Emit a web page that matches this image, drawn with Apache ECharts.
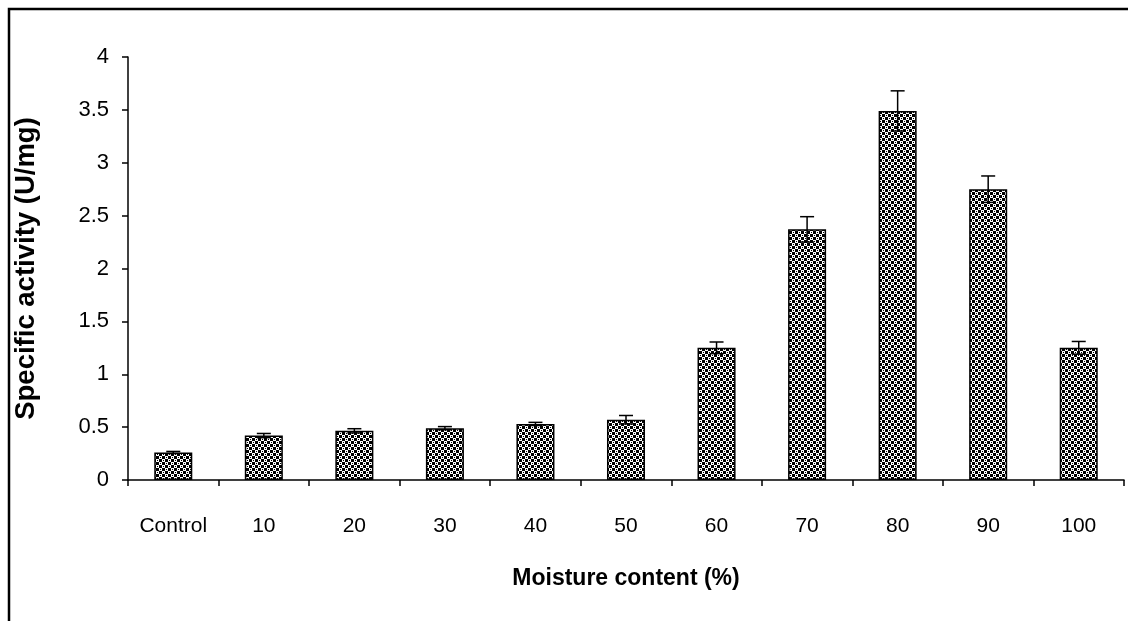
<!DOCTYPE html>
<html>
<head>
<meta charset="utf-8">
<style>
  html, body { margin: 0; padding: 0; background: #fff; }
  #chart { width: 1128px; height: 621px; }
</style>
<script src="https://cdn.jsdelivr.net/npm/echarts@6/dist/echarts.min.js"></script>
</head>
<body>
<div id="chart"></div>
<script>
// ---- data ----
var categories = ['Control', '10', '20', '30', '40', '50', '60', '70', '80', '90', '100'];
var activity   = [0.26, 0.42, 0.465, 0.49, 0.53, 0.57, 1.25, 2.37, 3.49, 2.75, 1.25];
var errors     = [0.01, 0.02, 0.02, 0.015, 0.015, 0.04, 0.055, 0.12, 0.19, 0.125, 0.06];
var yTicks     = { min: 0, max: 4, interval: 0.5 };
var xTitle = 'Moisture content (%)';
var yTitle = 'Specific activity (U/mg)';

// checkered fill pattern
var tile = document.createElement('canvas');
tile.width = 6; tile.height = 6;
var tc = tile.getContext('2d');
tc.fillStyle = '#fff'; tc.fillRect(0, 0, 6, 6);
tc.fillStyle = '#000';
tc.fillRect(0, 0, 3, 3);
tc.fillRect(3, 3, 3, 3);
tc.fillRect(4, 1, 1, 1);
tc.fillRect(1, 4, 1, 1);

var FONT = '"Liberation Sans", Arial, sans-serif';

var chart = echarts.init(document.getElementById('chart'), null, { renderer: 'canvas' });

var errData = activity.map(function (v, i) { return [i, v - errors[i], v + errors[i]]; });

chart.setOption({
  animation: false,
  backgroundColor: '#fff',
  grid: { left: 128, right: 4, top: 57, bottom: 141, containLabel: false },
  xAxis: {
    type: 'category',
    data: categories,
    name: xTitle,
    nameLocation: 'middle',
    nameGap: 87,
    nameTextStyle: { fontFamily: FONT, fontSize: 23, fontWeight: 'bold', color: '#000' },
    axisLine: { lineStyle: { color: '#000', width: 1.5 } },
    axisTick: { show: true, alignWithLabel: false, inside: false, length: 6, lineStyle: { color: '#000', width: 1.5 } },
    axisLabel: { color: '#000', fontFamily: FONT, fontSize: 21, margin: 36, interval: 0 },
    splitLine: { show: false }
  },
  yAxis: {
    type: 'value',
    min: yTicks.min, max: yTicks.max, interval: yTicks.interval,
    name: yTitle,
    nameLocation: 'middle',
    nameGap: 88,
    nameTextStyle: { fontFamily: FONT, fontSize: 27.5, fontWeight: 'bold', color: '#000' },
    axisLine: { show: true, lineStyle: { color: '#000', width: 1.5 } },
    axisTick: { show: true, inside: false, length: 6, lineStyle: { color: '#000', width: 1.5 } },
    axisLabel: { color: '#000', fontFamily: FONT, fontSize: 22, margin: 19 },
    splitLine: { show: false }
  },
  graphic: [{
    type: 'rect',
    shape: { x: 9, y: 9, width: 1300, height: 800 },
    style: { fill: 'none', stroke: '#000', lineWidth: 2.5 },
    silent: true
  }],
  series: [{
    type: 'bar',
    data: activity,
    barWidth: '42%',
    itemStyle: {
      color: { image: tile, repeat: 'repeat' },
      borderColor: '#000',
      borderWidth: 1.5
    },
    z: 2
  }, {
    type: 'custom',
    data: errData,
    z: 5,
    renderItem: function (params, api) {
      var lo = api.coord([api.value(0), api.value(1)]);
      var hi = api.coord([api.value(0), api.value(2)]);
      var half = 7;
      var st = { stroke: '#000', lineWidth: 1.5, fill: null };
      return {
        type: 'group',
        children: [
          { type: 'line', shape: { x1: hi[0], y1: hi[1], x2: lo[0], y2: lo[1] }, style: st },
          { type: 'line', shape: { x1: hi[0] - half, y1: hi[1], x2: hi[0] + half, y2: hi[1] }, style: st },
          { type: 'line', shape: { x1: lo[0] - half, y1: lo[1], x2: lo[0] + half, y2: lo[1] }, style: st }
        ]
      };
    }
  }]
});
</script>
</body>
</html>
